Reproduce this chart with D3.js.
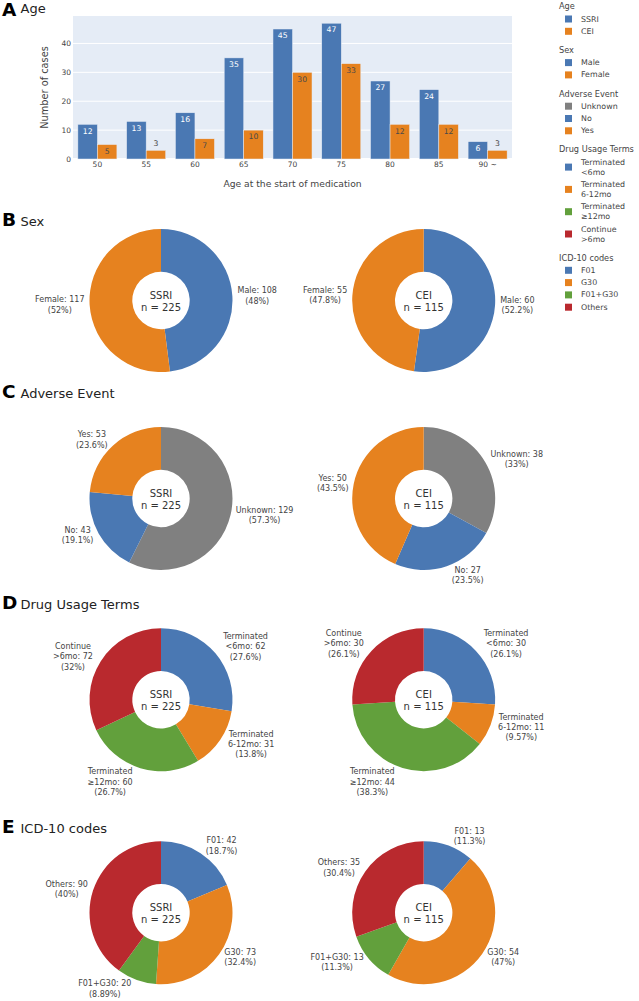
<!DOCTYPE html>
<html><head><meta charset="utf-8">
<script src="https://cdn.jsdelivr.net/npm/d3@7"></script>
<style>
body{margin:0;background:#fff}
svg{display:block}
text{font-family:"DejaVu Sans",Verdana,sans-serif}
</style>
</head><body>
<svg id="chart" width="639" height="1001"></svg>
<script>
// ---------------- DATA ----------------
const ageCategories = ["50","55","60","65","70","75","80","85","90 ~"];
const ageSSRI = [12,13,16,35,45,47,27,24,6];
const ageCEI  = [5,3,7,10,30,33,12,12,3];
const yTickValues = [0,10,20,30,40];
const drugGroups = ["SSRI","CEI"];

const sexLabels = ["Male","Female"];
const sexSSRI = [108,117];
const sexCEI  = [60,55];

const aeLabels = ["Unknown","No","Yes"];
const aeSSRI = [129,43,53];
const aeCEI  = [38,27,50];

const dutLabels = ["Terminated\n<6mo","Terminated\n6-12mo","Terminated\n≥12mo","Continue\n>6mo"];
const dutSSRI = [62,31,60,72];
const dutCEI  = [30,11,44,30];

const icdLabels = ["F01","G30","F01+G30","Others"];
const icdSSRI = [42,73,20,90];
const icdCEI  = [13,54,13,35];

const sectionLetters = ["A","B","C","D","E"];
const sectionTitles = ["Age","Sex","Adverse Event","Drug Usage Terms","ICD-10 codes"];

// ---------------- STYLE ----------------
const BLUE="#4a78b3", ORANGE="#e6821f", GRAY="#808080", GREEN="#62a03c", RED="#b9292e";
const TXT="#444";

const svg = d3.select("#chart");
svg.append("rect").attr("width",639).attr("height",1001).attr("fill","#fff");

// ---------------- SECTION TITLES ----------------
const letterBase = [15.5,226,397.8,609.3,832.7];
const titleBase  = [12.8,226,397.8,609.3,832.7];
sectionLetters.forEach((L,i)=>{
  svg.append("text").attr("x",2).attr("y",letterBase[i])
    .attr("font-family","Liberation Sans, Arial, sans-serif").attr("font-weight","bold")
    .attr("font-size",18.5).attr("fill","#000").text(L);
  svg.append("text").attr("x",20.5).attr("y",titleBase[i])
    .attr("font-size",13).attr("fill","#222").text(sectionTitles[i]);
});

// ---------------- BAR CHART ----------------
const plot = {l:73, r:512, t:16, b:159};
svg.append("rect").attr("x",plot.l).attr("y",plot.t)
  .attr("width",plot.r-plot.l).attr("height",plot.b-plot.t).attr("fill","#e5ecf6");
const x0 = d3.scaleBand().domain(ageCategories).range([plot.l,plot.r]).paddingInner(0.2).paddingOuter(0.1);
const x1 = d3.scaleBand().domain(drugGroups).range([0,x0.bandwidth()]);
const y = d3.scaleLinear().domain([0,49.5]).range([plot.b,plot.t]);

// grid
svg.append("g").selectAll("line").data(yTickValues).join("line")
  .attr("x1",plot.l).attr("x2",plot.r).attr("y1",d=>y(d)).attr("y2",d=>y(d))
  .attr("stroke","#fff").attr("stroke-width",d=>d===0?2:1);

// y axis
const yAxis = d3.axisLeft(y).tickValues(yTickValues).tickSize(0).tickPadding(2);
const gy = svg.append("g").attr("transform",`translate(${plot.l},0)`).call(yAxis);
gy.select(".domain").remove();
gy.selectAll("text").attr("font-size",7.5).attr("fill",TXT).attr("font-family","DejaVu Sans");
// x axis
const xAxis = d3.axisBottom(x0).tickSize(0).tickPadding(3);
const gx = svg.append("g").attr("transform",`translate(0,${plot.b})`).call(xAxis);
gx.select(".domain").remove();
gx.selectAll("text").attr("font-size",7.5).attr("fill",TXT).attr("font-family","DejaVu Sans");

svg.append("text").attr("transform",`translate(44,${(plot.t+plot.b)/2}) rotate(-90)`)
  .attr("text-anchor","middle").attr("dominant-baseline","central")
  .attr("font-size",9.8).attr("fill",TXT).text("Number of cases");
svg.append("text").attr("x",(plot.l+plot.r)/2).attr("y",183)
  .attr("text-anchor","middle").attr("dominant-baseline","central")
  .attr("font-size",9.2).attr("fill",TXT).text("Age at the start of medication");

const barSeries = [{name:"SSRI",vals:ageSSRI,color:BLUE,inText:"#fff"},
                   {name:"CEI",vals:ageCEI,color:ORANGE,inText:"#4a4a4a"}];
const bars = svg.append("g");
barSeries.forEach(s=>{
  const g = bars.append("g");
  ageCategories.forEach((c,i)=>{
    const v = s.vals[i];
    const bx = x0(c)+x1(s.name), bw = x1.bandwidth();
    const top = y(v), h = y(0)-y(v);
    g.append("rect").attr("x",bx).attr("y",top).attr("width",bw).attr("height",h)
      .attr("fill",s.color).attr("stroke","#e5ecf6").attr("stroke-width",0.5);
    const inside = h >= 12;
    g.append("text").attr("x",bx+bw/2).attr("y",inside? top+6.7 : top-6.4)
      .attr("text-anchor","middle").attr("dominant-baseline","central")
      .attr("font-size",7.7).attr("fill",inside? s.inText : TXT).text(v);
  });
});

// ---------------- LEGEND ----------------
const legendGroups = [
  {title:"Age", labels:drugGroups, colors:[BLUE,ORANGE]},
  {title:"Sex", labels:sexLabels, colors:[BLUE,ORANGE]},
  {title:"Adverse Event", labels:aeLabels, colors:[GRAY,BLUE,ORANGE]},
  {title:"Drug Usage Terms", labels:dutLabels, colors:[BLUE,ORANGE,GREEN,RED]},
  {title:"ICD-10 codes", labels:icdLabels, colors:[BLUE,ORANGE,GREEN,RED]}
];
const lg = svg.append("g");
let ly = 6.3;
legendGroups.forEach(grp=>{
  lg.append("text").attr("x",559).attr("y",ly).attr("dominant-baseline","central")
    .attr("font-size",8.2).attr("fill",TXT).text(grp.title);
  ly += 12.7;
  let lastLine = ly;
  grp.labels.forEach((lab,i)=>{
    const lines = lab.split("\n");
    const mid = ly + (lines.length-1)*10/2;
    lg.append("rect").attr("x",565).attr("y",mid-3.5).attr("width",7).attr("height",7).attr("fill",grp.colors[i]);
    lines.forEach((ln,j)=>{
      lg.append("text").attr("x",581).attr("y",ly+j*10).attr("dominant-baseline","central")
        .attr("font-size",7.9).attr("fill",TXT).text(ln);
    });
    lastLine = ly + (lines.length-1)*10;
    ly = lastLine + 12.3;
  });
  ly = lastLine + 18.6;
});

// ---------------- DONUTS ----------------
const donutRows = [
  {labels:sexLabels, colors:[BLUE,ORANGE], ssri:sexSSRI, cei:sexCEI},
  {labels:aeLabels, colors:[GRAY,BLUE,ORANGE], ssri:aeSSRI, cei:aeCEI},
  {labels:dutLabels, colors:[BLUE,ORANGE,GREEN,RED], ssri:dutSSRI, cei:dutCEI},
  {labels:icdLabels, colors:[BLUE,ORANGE,GREEN,RED], ssri:icdSSRI, cei:icdCEI}
];
const rowCY = [300.5,498.5,699.7,912.7];
const colCX = [161,423.7];
const R = 71.5, r0 = 28.7;
const pct = d3.format(".3~r");
const pie = d3.pie().sort(null).value(d=>d.v);
const arc = d3.arc().innerRadius(r0).outerRadius(R);
const LABEL_FS = 8, LINE_H = 10.3;

donutRows.forEach((row,ri)=>{
  [["SSRI",row.ssri],["CEI",row.cei]].forEach(([name,vals],ci)=>{
    const cx = colCX[ci], cy = rowCY[ri];
    const total = d3.sum(vals);
    const data = vals.map((v,i)=>({v, label:row.labels[i], color:row.colors[i]}));
    const g = svg.append("g").attr("transform",`translate(${cx},${cy})`);
    const arcs = pie(data);
    g.selectAll("path").data(arcs).join("path").attr("d",arc).attr("fill",d=>d.data.color);
    // center text
    g.append("text").attr("y",1-6.15).attr("text-anchor","middle").attr("dominant-baseline","central")
      .attr("font-size",10).attr("fill","#333").text(name);
    g.append("text").attr("y",1+6.15).attr("text-anchor","middle").attr("dominant-baseline","central")
      .attr("font-size",10).attr("fill","#333").text("n = "+total);
    // outside labels (plotly-like placement)
    arcs.forEach(a=>{
      const nameLines = a.data.label.split("\n");
      const lines = nameLines.slice(0,-1);
      lines.push(nameLines[nameLines.length-1]+": "+a.data.v);
      lines.push("("+pct(a.data.v/total*100)+"%)");
      const t = g.append("text").attr("text-anchor","middle").attr("font-size",LABEL_FS).attr("fill",TXT);
      const spans = lines.map(ln=>t.append("tspan").attr("x",0).attr("dominant-baseline","central").text(ln));
      const w = d3.max(spans, s=>s.node().getComputedTextLength());
      const h = lines.length*LINE_H;
      const mid = (a.startAngle+a.endAngle)/2;
      const px = R*Math.sin(mid), py = -R*Math.cos(mid);
      let dx = w/2, dy = h/2;
      if(px<0) dx*=-1;
      if(py<0) dy*=-1;
      const tx = dx + Math.abs(dy)*(dx>0?1:-1)/2;
      const ty = Math.abs(py) < 1e-9 ? 0 : dy/(1+px*px/(py*py));
      const ccx = px+tx, ccy = py+ty;
      spans.forEach((s,j)=>s.attr("x",ccx).attr("y",ccy+(j-(lines.length-1)/2)*LINE_H));
    });
  });
});
</script>
</body></html>
